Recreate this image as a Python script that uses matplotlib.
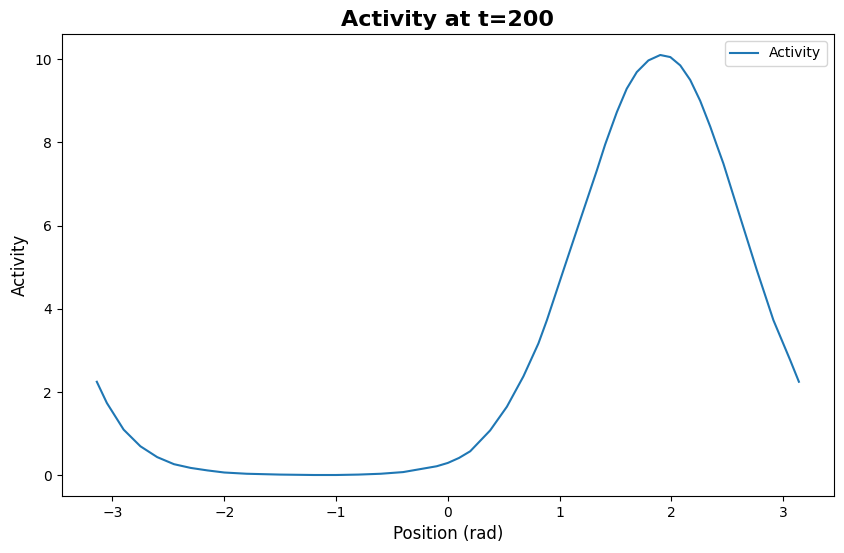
import numpy as np
import matplotlib
matplotlib.use("Agg")
from matplotlib import pyplot as plt

# values
position = [-3.14, -3.05, -2.90, -2.75, -2.60, -2.45, -2.30, -2.15, -2.0, -1.8,
            -1.5, -1.2, -1.0, -0.8, -0.6, -0.4, -0.25, -0.1, 0.0, 0.1,
            0.2, 0.378, 0.528, 0.676, 0.81, 0.886, 1.034, 1.183, 1.333,
            1.407, 1.512, 1.60, 1.69, 1.794, 1.90, 1.99, 2.079, 2.168, 2.257,
            2.347, 2.406, 2.465, 2.614, 2.764, 2.912, 3.062, 3.14]
activity = [2.25, 1.74, 1.10, 0.70, 0.44, 0.27, 0.18, 0.12, 0.07, 0.04,
            0.02, 0.01, 0.01, 0.02, 0.04, 0.08, 0.15, 0.22, 0.30, 0.42,
            0.58, 1.08, 1.65, 2.38, 3.17, 3.73, 4.93, 6.13, 7.33,
            7.95, 8.73, 9.29, 9.69, 9.97, 10.10, 10.05, 9.85, 9.50, 9.00,
            8.38, 7.93, 7.49, 6.21, 4.93, 3.73, 2.77, 2.25]

fig = plt.figure(figsize=(8.45, 5.53), dpi=100)
ax = fig.add_subplot(1, 1, 1)
fig.subplots_adjust(left=61.7/845, right=834/845, top=1-34/553, bottom=1-496/553)

ax.plot(position, activity, label="Activity")

ax.set_title("Activity at t=200", fontsize=16, fontweight="bold")
ax.set_xlabel("Position (rad)", fontsize=12)
ax.set_ylabel("Activity", fontsize=12)
ax.legend(loc="upper right")

fig.savefig("out.png", dpi=100)
